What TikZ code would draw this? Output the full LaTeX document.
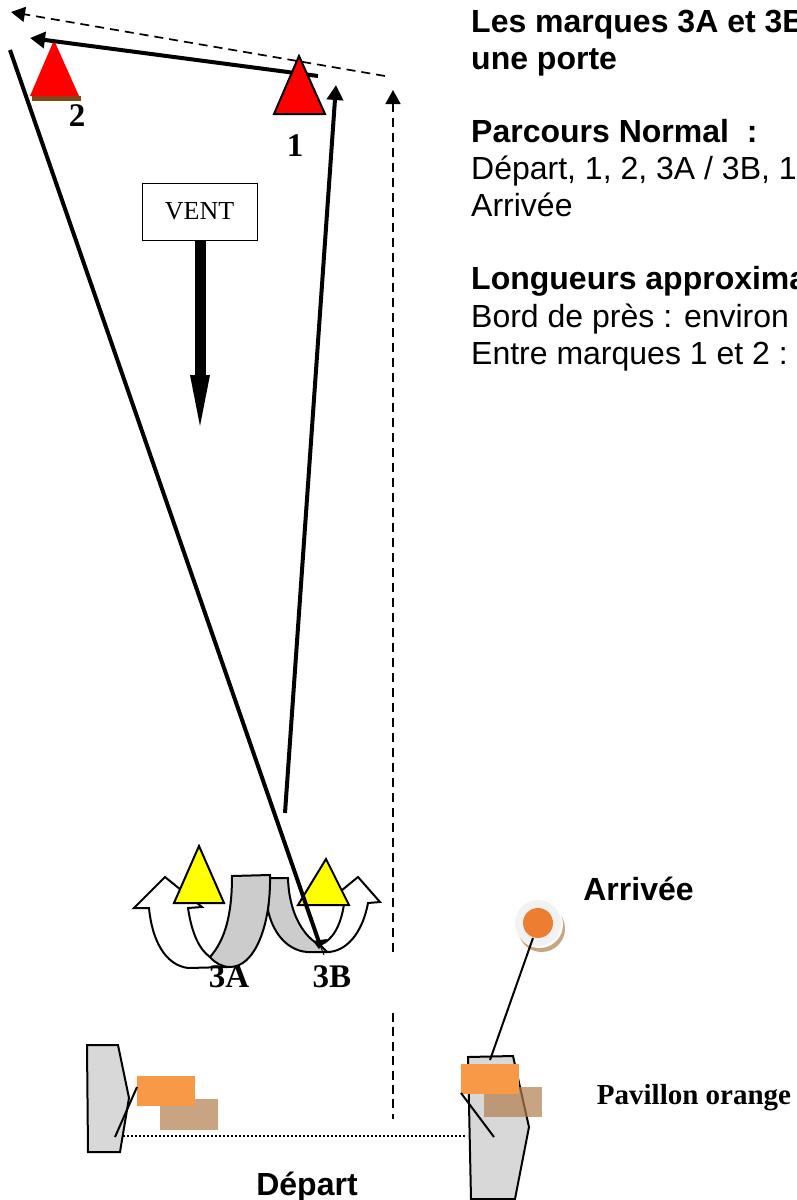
\documentclass[tikz,border=0pt]{standalone}
\usepackage{fontspec}
\setmainfont{Liberation Serif}
\setsansfont{Liberation Sans}
\usepackage{tikz}
\usetikzlibrary{arrows.meta}
\definecolor{markred}{RGB}{255,0,0}
\definecolor{markyellow}{RGB}{255,255,0}
\definecolor{flagorange}{RGB}{248,153,72}
\definecolor{flagshadow}{RGB}{177,126,77}
\definecolor{boatgrey}{RGB}{216,216,216}
\definecolor{turngrey}{RGB}{204,204,204}
\definecolor{buoyorange}{RGB}{237,125,49}
\definecolor{markbrown}{RGB}{131,70,24}

\begin{document}
\begin{tikzpicture}[x=1pt,y=-1pt,
    info/.style={anchor=base west,inner sep=0pt,font=\sffamily\fontsize{32}{36}\selectfont},
    infohead/.style={info,font=\sffamily\bfseries\fontsize{32}{36}\selectfont},
    marklabel/.style={inner sep=0pt,font=\rmfamily\bfseries\fontsize{33}{36}\selectfont},
    mark triangle/.style={draw=black,line width=2pt,line join=miter},
    route/.style={draw,line width=4pt,-{Triangle[length=15pt,width=16pt]}},
    dashroute/.style={draw,line width=1.7pt,dash pattern=on 9pt off 6pt,-{Triangle[length=14pt,width=15pt]}},
    boat/.style={draw=black,fill=boatgrey,line width=2pt},
    turn/.style={draw=black,line width=2pt},
    flag/.style={fill=flagorange},
    flagback/.style={fill=flagshadow,fill opacity=.7},
    staff/.style={draw=black,line width=2pt}
    ]
    \useasboundingbox (0,0) rectangle (797,1200);
    \clip (0,0) rectangle (797,1200);
    
    % texte
    \node[infohead] (titleA) at (471,32) {Les marques 3A et 3B};
    \node[infohead] (titleB) at (471,69) {une porte};
    \node[infohead] (courseHead) at (471,142) {Parcours Normal\ \ :};
    \node[info] (courseA) at (471,179) {Départ, 1, 2, 3A / 3B, 1};
    \node[info] (courseB) at (471,216) {Arrivée};
    \node[infohead] (lengthHead) at (471,289) {Longueurs approximat};
    \node[info] (lengthA) at (471,327) {Bord de près : environ};
    \node[info] (lengthB) at (471,364) {Entre marques 1 et 2 :};
    
    % marques 1 et 2
    \fill[markbrown] (32,96) rectangle (81,101);
    \fill[markred] (54,40) -- (79,96) -- (30,96) -- cycle;
    \node[marklabel] (labelTwo) at (77,116) {2};
    \node[marklabel] (labelOne) at (295,146) {1};
    
    % parcours
    \coordinate (start2) at (318,76);
    \coordinate (end2) at (30,38);
    \coordinate (start1) at (285,813);
    \coordinate (end1) at (336,85);
    \coordinate (start3) at (10,50);
    \coordinate (end3) at (320,945);
    \coordinate (tail3) at (324,955);
    \coordinate (dashTurn) at (385,76);
    \coordinate (dashEnd) at (11,12);
    \coordinate (dashUpA) at (393,952);
    \coordinate (dashUpB) at (393,90);
    \coordinate (dashLowA) at (393,1013);
    \coordinate (dashLowB) at (393,1119);
    
    \path[route] (start2) -- (end2);
    \path[route] (start1) -- (end1);
    \path[dashroute] (dashTurn) -- (dashEnd);
    \path[dashroute] (dashUpA) -- (dashUpB);
    \draw[line width=1.7pt,dash pattern=on 9pt off 5.4pt] (dashLowA) -- (dashLowB);
    \filldraw[mark triangle,fill=markred] (299,56) -- (325,114) -- (274,114) -- cycle;
    
    % vent
    \node[draw,line width=1pt,minimum width=115pt,minimum height=57pt,inner sep=0pt,
        font=\rmfamily\fontsize{26}{30}\selectfont] (wind) at (199.5,211.5) {VENT};
    \coordinate (windNeck) at (200,376);
    \draw[line width=11pt] (wind.south -| windNeck) -- (windNeck);
    \fill (190,375) -- (210,375) -- (200,426) -- cycle;
    
    % virages autour de 3A et 3B
    \filldraw[turn,fill=white] (165,877) -- (202,907) -- (188,908)
        .. controls (192,935) and (200,950) .. (210,957)
        -- (228,967) -- (188,968)
        .. controls (165,965) and (152,940) .. (149,908)
        -- (134,908) -- cycle;
    \filldraw[turn,fill=white] (358,877) -- (380,902) -- (368,903)
        .. controls (362,935) and (345,952) .. (327,952)
        -- (320,945)
        .. controls (333,940) and (341,925) .. (344,904)
        -- (325,904) -- cycle;
    \filldraw[turn,fill=turngrey] (270,878) -- (288,878)
        .. controls (289,915) and (305,938) .. (320,945)
        -- (327,952) -- (307,952)
        .. controls (285,950) and (272,930) .. (268,910) -- cycle;
    \filldraw[turn,fill=turngrey] (232,876) -- (270,875)
        .. controls (271,925) and (255,967) .. (230,967)
        .. controls (222,967) and (215,963) .. (210,957)
        .. controls (225,940) and (232,915) .. (232,876) -- cycle;
    \filldraw[mark triangle,fill=markyellow] (199,846) -- (224,903) -- (174,903) -- cycle;
    \filldraw[mark triangle,fill=markyellow] (326,859) -- (349,905) -- (298,905) -- cycle;
    
    \draw[line width=4pt] (start3) -- (end3);
    \fill (313,941) -- (327,939) -- (319,949) -- cycle;
    \draw[line width=1pt] (end3) -- (tail3);
    \node[marklabel] (label3A) at (229,977) {3A};
    \node[marklabel] (label3B) at (332,977) {3B};
    
    % bateau et bouee d'arrivee
    \filldraw[boat] (87,1045) -- (118,1045) -- (129,1098) -- (120,1152) -- (88,1152) -- cycle;
    \filldraw[boat] (468,1057) -- (513,1056) -- (529,1127) -- (515,1199) -- (471,1199) -- cycle;
    \coordinate (lineLeft) at (123,1136);
    \coordinate (lineRight) at (467,1136);
    \draw[line width=2pt,dash pattern=on 2pt off 2pt] (lineLeft) -- (lineRight);
    
    % pavillons
    \fill[flagback] (160,1099) rectangle (218,1130);
    \fill[flag] (137,1076) rectangle (195,1106);
    \fill[flagback] (484,1087) rectangle (542,1117);
    \fill[flag] (461,1064) rectangle (519,1094);
    \coordinate (staffLeftA) at (115,1137);
    \coordinate (staffLeftB) at (137,1087);
    \coordinate (staffRightA) at (461,1093);
    \coordinate (staffRightB) at (494,1137);
    \draw[staff] (staffLeftA) -- (staffLeftB);
    \draw[staff] (staffRightA) -- (staffRightB);
    
    \fill[flagshadow,fill opacity=.7] (541.5,928.5) circle (23.5);
    \fill[white] (539.5,924.5) circle (23.5);
    \fill[black!5] (538,923) circle (23);
    \node[circle,fill=buoyorange,minimum size=30pt,inner sep=0pt] (buoy) at (538,923) {};
    \coordinate (staffFoot) at (490,1060);
    \draw[staff] (533,938) -- (staffFoot);
    
    \node[infohead,anchor=base] (finish) at (638.5,900) {Arrivée};
    \node[infohead,anchor=base] (start) at (307,1195) {Départ};
    \node[marklabel,anchor=base,font=\rmfamily\bfseries\fontsize{29}{30}\selectfont] (flagNote) at (694,1104) {Pavillon orange};
\end{tikzpicture}
\end{document}
